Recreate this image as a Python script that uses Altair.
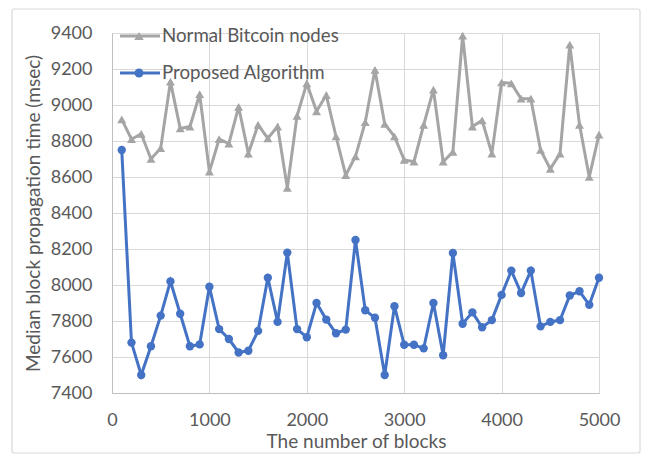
import altair as alt
import pandas as pd

blocks = list(range(100, 5001, 100))

normal_nodes = [
    8920, 8810, 8840, 8700, 8760, 9130, 8870, 8880, 9060, 8630,
    8810, 8785, 8990, 8730, 8890, 8815, 8880, 8540, 8940, 9120,
    8965, 9055, 8825, 8610, 8715, 8905, 9195, 8895, 8825, 8695,
    8685, 8890, 9085, 8685, 8740, 9385, 8880, 8915, 8730, 9125,
    9120, 9035, 9035, 8750, 8645, 8730, 9335, 8890, 8600, 8835,
]

proposed = [
    8750, 7680, 7500, 7660, 7830, 8020, 7840, 7660, 7670, 7990,
    7755, 7700, 7625, 7635, 7745, 8040, 7795, 8180, 7755, 7710,
    7900, 7808, 7732, 7752, 8250, 7860, 7818, 7500, 7882, 7668,
    7668, 7648, 7900, 7610, 8178, 7785, 7848, 7765, 7805, 7945,
    8080, 7955, 8080, 7770, 7795, 7805, 7942, 7965, 7890, 8040,
]

series_names = ["Normal Bitcoin nodes", "Proposed Algorithm"]
series_colors = ["#A5A5A5", "#4472C4"]
series_shapes = ["triangle-up", "circle"]
series_sizes = [80, 70]

df = pd.DataFrame({
    "blocks": blocks * 2,
    "value": normal_nodes + proposed,
    "series": [series_names[0]] * len(blocks) + [series_names[1]] * len(blocks),
})
legend_df = pd.DataFrame({"series": series_names})

FONT = "Lato"
TXT = "#595959"

color_scale = alt.Scale(domain=series_names, range=series_colors)
shape_scale = alt.Scale(domain=series_names, range=series_shapes)

x = alt.X(
    "blocks:Q",
    scale=alt.Scale(domain=[0, 5000], nice=False),
    axis=alt.Axis(
        title="The number of blocks",
        values=[0, 1000, 2000, 3000, 4000, 5000],
        format="d",
        ticks=False,
        tickSize=0,
        labelFlush=False,
        labelPadding=18,
        titleX=244,
        titleY=48,
        titleBaseline="middle",
        titleFontSize=19,
    ),
)
y = alt.Y(
    "value:Q",
    scale=alt.Scale(domain=[7400, 9400], nice=False),
    axis=alt.Axis(
        title="Median block propagation time (msec)",
        values=list(range(7400, 9401, 200)),
        format="d",
        ticks=False,
        tickSize=0,
        labelFlush=False,
        labelPadding=20,
        titleX=-79,
        titleY=180,
        titleBaseline="middle",
        titleFontSize=19,
    ),
)

lines = alt.Chart(df).mark_line(strokeWidth=3).encode(
    x=x, y=y, color=alt.Color("series:N", scale=color_scale, legend=None)
)
points = alt.Chart(df).mark_point(filled=True, opacity=1, strokeWidth=0).encode(
    x=x,
    y=y,
    color=alt.Color("series:N", scale=color_scale, legend=None),
    shape=alt.Shape("series:N", scale=shape_scale, legend=None),
    size=alt.Size("series:N", scale=alt.Scale(domain=series_names, range=series_sizes), legend=None),
)

# hand-drawn legend in the top-left corner of the plot
legend_layers = []
for i, (name, col, shp) in enumerate(zip(series_names, series_colors, series_shapes)):
    yy = 3 + 37 * i
    base = alt.Chart(legend_df).transform_filter(alt.datum.series == name)
    legend_layers.append(
        base.mark_rule(strokeWidth=3, color=col).encode(
            x=alt.value(8), x2=alt.value(48), y=alt.value(yy)
        )
    )
    legend_layers.append(
        base.mark_point(filled=True, opacity=1, strokeWidth=0, color=col, shape=shp,
                        size=series_sizes[i] + 10).encode(
            x=alt.value(27), y=alt.value(yy)
        )
    )
    legend_layers.append(
        base.mark_text(align="left", baseline="middle", font=FONT, fontSize=18.7, color=TXT).encode(
            x=alt.value(50), y=alt.value(yy), text="series:N"
        )
    )

border = alt.Chart(alt.Data(values=[{"a": 1}])).mark_rect(
    fillOpacity=0, stroke="#d9d9d9", strokeWidth=1.2, cornerRadius=2
).encode(
    x=alt.value(-100), x2=alt.value(528), y=alt.value(-24), y2=alt.value(420)
)

chart = alt.layer(border, lines, points, *legend_layers).properties(
    width=487,
    height=360,
    background="white",
    autosize=alt.AutoSizeParams(type="none"),
    padding={"left": 104, "top": 25, "right": 42, "bottom": 61},
).configure_view(
    stroke="#d9d9d9", strokeWidth=1
).configure_axis(
    gridColor="#d9d9d9",
    gridWidth=1,
    domainColor="#bfbfbf",
    domainWidth=1,
    labelFont=FONT,
    labelFontSize=18,
    labelColor=TXT,
    titleFont=FONT,
    titleColor=TXT,
    titleFontWeight="normal",
)

chart.save("out.html", embed_options={"renderer": "svg", "actions": False})
